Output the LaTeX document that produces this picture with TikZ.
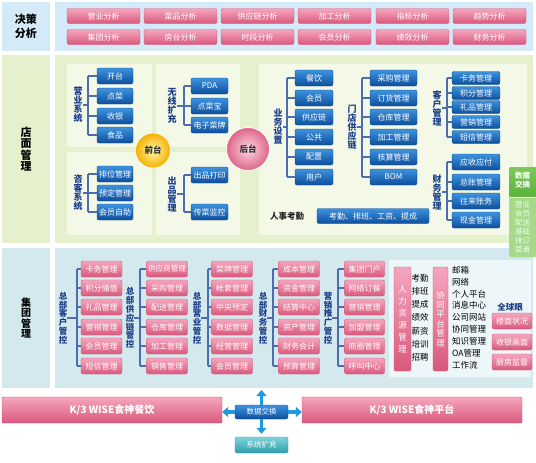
\documentclass[tikz,border=0pt]{standalone}
\usepackage{fontspec}
\setmainfont{Noto Sans CJK SC}
\usetikzlibrary{arrows.meta,shadings}
\definecolor{pinktop}{HTML}{F5A6BE}
\definecolor{pinkbot}{HTML}{D9587C}
\definecolor{pinkedge}{HTML}{D4557A}
\definecolor{bluetop}{HTML}{3D92DE}
\definecolor{bluebot}{HTML}{0D4F9D}
\definecolor{blueedge}{HTML}{0C4A92}
\definecolor{labblue}{HTML}{1B3D8A}
\definecolor{brkcol}{HTML}{4D6DB0}
\definecolor{topbg}{HTML}{D5EAF8}
\definecolor{storebg}{HTML}{E5F1CC}
\definecolor{storesub}{HTML}{F3F9E6}
\definecolor{groupbg}{HTML}{D3E9EE}
\definecolor{groupsub}{HTML}{EDF6F8}
\definecolor{arrowcol}{HTML}{1D9AE3}
\definecolor{greentop}{HTML}{7CC95A}
\definecolor{greenbot}{HTML}{5BB23C}
\definecolor{greenlow}{HTML}{A6D98A}
\definecolor{tealtop}{HTML}{7ED3DA}
\definecolor{tealbot}{HTML}{2E9DAB}
\definecolor{yelin}{HTML}{FFF6A8}
\definecolor{yelout}{HTML}{F4B000}
\definecolor{pkin}{HTML}{FCD8E2}
\definecolor{pkout}{HTML}{DE6488}
\tikzset{
 pbtn/.style={rectangle, rounded corners=2pt, draw=pinkedge, top color=pinktop, bottom color=pinkbot, text=white, font=\fontsize{8}{8}\selectfont, inner sep=0pt, minimum height=16pt},
 bbtn/.style={rectangle, rounded corners=2pt, draw=blueedge, top color=bluetop, bottom color=bluebot, text=white, font=\fontsize{8}{8}\selectfont, inner sep=0pt, minimum height=16pt},
 vlab/.style={align=center, text=labblue, font=\fontsize{9}{9}\selectfont\bfseries, inner sep=0pt},
 biglab/.style={align=center, text=black, font=\fontsize{11}{14}\selectfont\bfseries, inner sep=0pt},
 brk/.style={draw=brkcol, line width=1.1pt},
 bigarrow/.style={draw=arrowcol, line width=3.5pt, -{Triangle[width=10pt,length=6pt]}},
 plain/.style={text=black, font=\fontsize{8.5}{8.5}\selectfont, inner sep=0pt}
}
% #1 name, #2 label, #3 label x, #4 label y, #5 bracket x, #6 style, #7 btn x, #8 btn width, #9 list
\newcommand{\grp}[9]{%
 \node[vlab] (#1L) at (#3,#4) {#2};
 \coordinate (#1K) at (#5,#4);
 \foreach \yy/\tx [count=\i] in {#9} {
   \node[#6, minimum width=#8pt] (#1\i) at (#7,\yy) {\tx};
   \draw[brk] (#1\i.west) -- (#1\i.west -| #1K);
   \xdef\lastn{\i}
 }
 \draw[brk] (#11.west -| #1K) -- (#1\lastn.west -| #1K);
 \draw[brk] (#1L.east) -- (#1K);
}
\begin{document}
\begin{tikzpicture}[x=1pt,y=-1pt]
\useasboundingbox (0,0) rectangle (536,463);
\fill[white] (0,0) rectangle (536,463);
% ---------- top
\fill[topbg] (2,2) rectangle (50,51);
\node[biglab] (tl) at (26,26.5) {决策\\分析};
\fill[topbg] (55,2) rectangle (533,51);
\foreach \x/\a/\b [count=\i] in {103.5/营业分析/集团分析, 180.5/菜品分析/房台分析, 257.5/供应链分析/时段分析, 334.5/加工分析/会员分析, 412.5/指标分析/绩效分析, 489.5/趋势分析/财务分析} {
  \node[pbtn, minimum width=73pt, minimum height=15pt] (ta\i) at (\x,16) {\a};
  \node[pbtn, minimum width=73pt, minimum height=15pt] (tb\i) at (\x,37) {\b};
}
% ---------- store
\fill[storebg] (2,55) rectangle (50,243);
\node[biglab, font=\fontsize{11}{11.5}\selectfont\bfseries] (sl) at (26,149) {店\\面\\管\\理};
\fill[storebg] (55,55) rectangle (533,243);
\fill[storesub] (67,64) rectangle (152,147);
\fill[storesub] (156,64) rectangle (240,147);
\fill[storesub] (67,152) rectangle (152,235);
\fill[storesub] (156,152) rectangle (240,235);
\fill[storesub] (259,64) rectangle (527,235);
\grp{sa}{营\\业\\系\\统}{78}{105}{88}{bbtn}{115}{36}{76/开台, 96/点菜, 116/收银, 135/食品}
\grp{sb}{咨\\客\\系\\统}{78}{193}{88}{bbtn}{115}{36}{174/排位管理, 193/预定管理, 212/会员自助}
\grp{sc}{无\\线\\扩\\充}{172}{106}{184}{bbtn}{209.5}{37}{86/PDA, 106/点菜宝, 125/电子菜牌}
\grp{sd}{出\\品\\管\\理}{172}{194}{184}{bbtn}{209.5}{37}{175/出品打印, 212/传菜监控}
\grp{se}{业\\务\\设\\置}{278}{127}{287}{bbtn}{314}{38}{78/餐饮, 98/会员, 117/供应链, 137/公共, 157/配置, 177/用户}
\grp{sf}{门\\店\\供\\应\\链}{352}{127}{362}{bbtn}{393.5}{47}{78/采购管理, 98/订货管理, 117/仓库管理, 137/加工管理, 157/核算管理, 177/BOM}
\grp{sg}{客\\户\\管\\理}{437}{108}{447}{bbtn, minimum height=13pt}{476}{48}{78/卡务管理, 93/积分管理, 107/礼品管理, 122/营销管理, 137/短信管理}
\grp{sh}{财\\务\\管\\理}{437}{192}{447}{bbtn}{476}{48}{162/应收应付, 182/总账管理, 201/往来账务, 220/现金管理}
\node[plain, font=\fontsize{8.5}{8.5}\selectfont\bfseries, text=black!85] (hr) at (287,216) {人事考勤};
\node[bbtn, minimum width=112pt, minimum height=15pt] (hrbox) at (373,216) {考勤、排班、工资、提成};
\shade[inner color=yelin, outer color=yelout] (153,150.5) circle (17.5);
\draw[white, line width=0.6pt] (153,150.5) circle (17.5);
\node[font=\fontsize{8.5}{8.5}\selectfont\bfseries, text=black!80] (qt) at (153,150.5) {前台};
\shade[inner color=pkin, outer color=pkout] (248,149) circle (21.5);
\draw[white, line width=0.8pt] (248,149) circle (21.5);
\node[font=\fontsize{8.5}{8.5}\selectfont\bfseries, text=black!80] (ht) at (248,149) {后台};
% ---------- group
\fill[groupbg] (2,248) rectangle (50,388);
\node[biglab, font=\fontsize{10}{10.5}\selectfont\bfseries] (gl) at (26,318) {集\\团\\管\\理};
\fill[groupbg] (55,248) rectangle (533,388);
\fill[groupsub] (389,260) rectangle (531,377);
\begin{scope}[vlab/.append style={font=\fontsize{8.5}{8.8}\selectfont\bfseries}]
\grp{ga}{总\\部\\客\\户\\管\\控}{63}{318}{77}{pbtn}{101.5}{41}{269/卡务管理, 288/积分储值, 307/礼品管理, 327/营销管理, 346/会员管理, 366/短信管理}
\grp{gb}{总\\部\\供\\应\\链\\管\\控}{130}{318}{140}{pbtn}{167}{41}{269/{\fontsize{7.6}{8}\selectfont 供应商管理}, 288/采购管理, 307/配送管理, 327/仓库管理, 346/加工管理, 366/销售管理}
\grp{gc}{总\\部\\营\\业\\管\\控}{197}{318}{208}{pbtn}{232}{41}{269/菜牌管理, 288/帐套管理, 307/中央预定, 327/数据管理, 346/经营管理, 366/会员管理}
\grp{gd}{总\\部\\财\\务\\管\\控}{263}{318}{273}{pbtn}{299}{41}{269/成本管理, 288/资金管理, 307/结算中心, 327/资产管理, 346/财务会计, 366/预算管理}
\grp{ge}{营\\销\\推\\广\\管\\控}{328}{318}{338}{pbtn}{364.5}{40}{269/集团门户, 288/网络订餐, 307/营销管理, 327/加盟管理, 346/商圈管理, 366/呼叫中心}
\end{scope}
\node[pbtn, minimum width=17pt, minimum height=104pt, align=center, font=\fontsize{8.5}{12}\selectfont] (hrm) at (402.5,319) {人\\力\\资\\源\\管\\理};
\foreach \tx [count=\i] in {考勤, 排班, 提成, 绩效, 薪资, 培训, 招聘} {
  \node[plain] (hi\i) at (420,{278+13.2*(\i-1)}) {\tx};
}
\node[pbtn, minimum width=15pt, minimum height=104pt, align=center, font=\fontsize{8.5}{9.5}\selectfont] (xt) at (440.5,319) {协\\同\\平\\台\\管\\理};
\foreach \tx [count=\i] in {邮箱, 网络, 个人平台, 消息中心, 公司网站, 协同管理, 知识管理, OA管理, 工作流} {
  \node[plain, anchor=west] (xi\i) at (452,{270+11.9*(\i-1)}) {\tx};
}
\node[font=\fontsize{8.5}{8.5}\selectfont\bfseries, text=labblue, inner sep=0pt] (qq) at (510,307) {全球眼};
\node[pbtn, minimum width=40pt] (q1) at (512,321) {楼面状况};
\node[pbtn, minimum width=40pt] (q2) at (512,342) {收银画面};
\node[pbtn, minimum width=40pt] (q3) at (512,362) {厨房监督};
% ---------- green tab
\fill[greenlow, rounded corners=2pt] (509,167) rectangle (538,257);
\shade[top color=greentop, bottom color=greenbot, rounded corners=2pt] (509,167) rectangle (538,197);
\draw[white, line width=0.6pt] (510,197.5) -- (536,197.5);
\node[align=center, text=white, font=\fontsize{7.5}{9}\selectfont\bfseries, inner sep=0pt] (dt) at (522.5,180) {数据\\交换};
\node[align=center, text=white!92!green, font=\fontsize{7.5}{9}\selectfont, inner sep=0pt] (dl) at (522.5,227) {营业\\会员\\配送\\基础\\排订\\菜谱};
% ---------- bottom
\node[pbtn, rounded corners=1pt, minimum width=220pt, minimum height=26pt, font=\fontsize{10}{10}\selectfont\bfseries] (b1) at (112,410) {K/3 WISE食神餐饮};
\node[pbtn, rounded corners=1pt, minimum width=220pt, minimum height=26pt, font=\fontsize{10}{10}\selectfont\bfseries] (b2) at (412,410) {K/3 WISE食神平台};
\node[bbtn, minimum width=53pt, minimum height=14pt, font=\fontsize{7.5}{7.5}\selectfont] (dx) at (261.5,412) {数据交换};
\node[rectangle, rounded corners=2pt, draw=tealbot, top color=tealtop, bottom color=tealbot, text=white, font=\fontsize{7.5}{7.5}\selectfont, inner sep=0pt, minimum width=53pt, minimum height=16pt] (sx) at (261.5,445) {系统扩充};
\coordinate (up) at (261.5,390);
\draw[bigarrow] (dx.north) -- (up);
\draw[bigarrow] (dx.west) -- (dx.west -| b1.east);
\draw[bigarrow] (dx.east) -- (dx.east -| b2.west);
\draw[bigarrow, shorten >=3pt] (dx.south) -- (sx.north);
\end{tikzpicture}
\end{document}
